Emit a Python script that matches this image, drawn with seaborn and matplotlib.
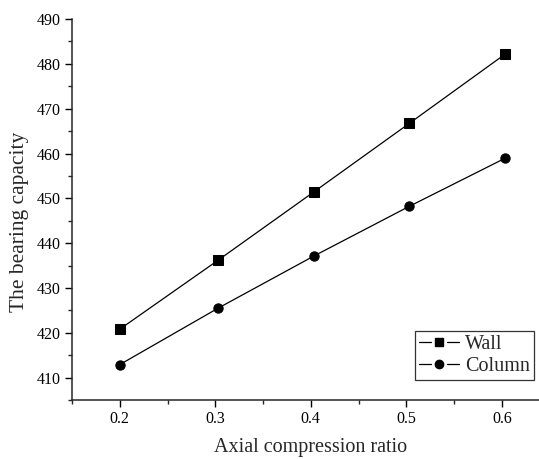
import pandas as pd
import numpy as np
import seaborn as sns
import matplotlib.pyplot as plt
from matplotlib.ticker import MultipleLocator
from matplotlib.lines import Line2D
from matplotlib.legend_handler import HandlerBase

ratio = [0.2, 0.303, 0.403, 0.503, 0.603]
wall = [420.8, 436.2, 451.4, 466.7, 482.1]
column = [412.9, 425.5, 437.1, 448.2, 458.9]
series_names = ["Wall", "Column"]

df = pd.DataFrame({
    "ratio": ratio * 2,
    "capacity": wall + column,
    "type": [series_names[0]] * len(wall) + [series_names[1]] * len(column),
})


class GapLineHandler(HandlerBase):
    # line - marker - line, with small gaps around the marker (Origin style)
    def create_artists(self, legend, orig, xdescent, ydescent, width, height, fontsize, trans):
        y = height / 2 - ydescent
        x0 = -xdescent
        mid = x0 + width / 2
        gap = width * 0.2
        left = Line2D([x0, mid - gap], [y, y], color="black", lw=0.9, transform=trans)
        right = Line2D([mid + gap, x0 + width], [y, y], color="black", lw=0.9, transform=trans)
        mark = Line2D([mid], [y], marker=orig.get_marker(), markersize=6, color="black",
                      linestyle="none", transform=trans)
        return [left, right, mark]


sns.set_style("ticks")
plt.rcParams["font.family"] = ["Liberation Serif", "DejaVu Serif"]
plt.rcParams["xtick.direction"] = "out"
plt.rcParams["ytick.direction"] = "out"

fig = plt.figure(figsize=(5.39, 4.59), dpi=100)
ax = fig.add_axes([0.1336, 0.1285, 0.886, 0.830])

sns.lineplot(data=df, x="ratio", y="capacity", style="type", markers=["s", "o"],
             dashes=False, color="black", linewidth=0.9, markersize=6.7,
             markeredgecolor="black", ax=ax)

ax.set_xlim(0.15, 0.65)
ax.set_ylim(405, 490)
ax.xaxis.set_minor_locator(MultipleLocator(0.05))
ax.yaxis.set_minor_locator(MultipleLocator(5))
ax.set_xticks([0.2, 0.3, 0.4, 0.5, 0.6])
ax.set_xticklabels(["0.2", "0.3", "0.4", "0.5", "0.6"])
ax.set_yticks([410, 420, 430, 440, 450, 460, 470, 480, 490])
ax.tick_params(which="major", length=5, width=1.0, labelsize=11.5, colors="black", pad=3)
ax.tick_params(which="minor", length=3, width=1.0)
for s in ["left", "bottom"]:
    ax.spines[s].set_linewidth(1.1)
sns.despine(ax=ax)

ax.set_xlabel("Axial compression ratio", fontsize=14.5)
ax.set_ylabel("The bearing capacity", fontsize=15.5)
ax.xaxis.set_label_coords(0.5, -0.1)
ax.yaxis.set_label_coords(-0.09, 0.467)

handles, labels = ax.get_legend_handles_labels()
leg = ax.legend(handles, labels, loc="lower right", bbox_to_anchor=(534 / 539, 1 - 380 / 459),
                bbox_transform=fig.transFigure, frameon=True, fancybox=False,
                edgecolor="black", fontsize=14.5, handlelength=2.0, handletextpad=0.3,
                borderpad=0.2, labelspacing=0.15, borderaxespad=0,
                handler_map={Line2D: GapLineHandler()})
leg.get_frame().set_linewidth(0.9)

fig.savefig("out.png", dpi=100)
